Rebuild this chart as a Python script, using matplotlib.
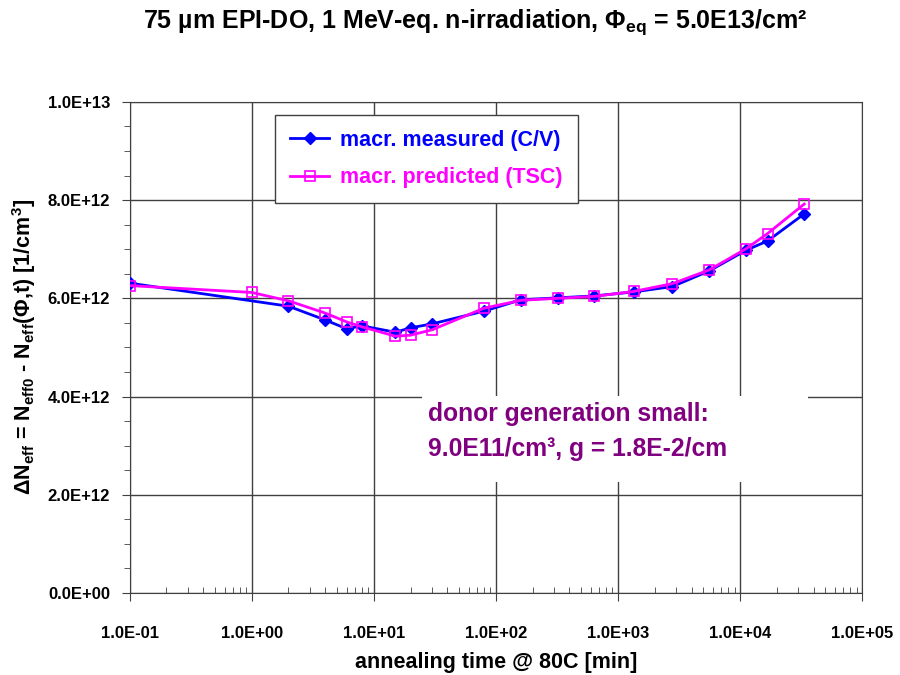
import matplotlib
matplotlib.use("Agg")
import matplotlib.pyplot as plt
import matplotlib.ticker as ticker
from matplotlib.patches import Rectangle
import numpy as np

# ── DATA ────────────────────────────────────────────────────
t_meas = [0.1, 2, 4, 6, 8, 15, 20, 30, 80, 160, 320, 640, 1340, 2790, 5600, 11200, 16800, 33500]
n_meas = [6.31e12, 5.84e12, 5.56e12, 5.38e12, 5.44e12, 5.31e12, 5.40e12, 5.48e12, 5.74e12,
          5.97e12, 6.01e12, 6.05e12, 6.13e12, 6.24e12, 6.56e12, 6.98e12, 7.17e12, 7.72e12]

t_pred = [0.1, 1, 2, 4, 6, 8, 15, 20, 30, 80, 160, 320, 640, 1340, 2790, 5600, 11200, 16800, 33500]
n_pred = [6.26e12, 6.12e12, 5.95e12, 5.70e12, 5.52e12, 5.42e12, 5.23e12, 5.25e12, 5.36e12, 5.80e12,
          5.96e12, 6.00e12, 6.04e12, 6.14e12, 6.30e12, 6.58e12, 7.01e12, 7.32e12, 7.92e12]

x_ticks = [1e-1, 1e0, 1e1, 1e2, 1e3, 1e4, 1e5]
y_ticks = [0, 2e12, 4e12, 6e12, 8e12, 1e13]

LABEL_MEAS = "macr. measured (C/V)"
LABEL_PRED = "macr. predicted (TSC)"
# ────────────────────────────────────────────────────────────

plt.rcParams["font.family"] = ["Liberation Sans", "DejaVu Sans"]
plt.rcParams["font.weight"] = "bold"
plt.rcParams["mathtext.fontset"] = "custom"
plt.rcParams["mathtext.rm"] = "Liberation Sans:bold"
plt.rcParams["mathtext.it"] = "Liberation Sans:bold"
plt.rcParams["mathtext.bf"] = "Liberation Sans:bold"

fig = plt.figure(figsize=(9, 6.75), dpi=100)
ax = fig.add_axes([0.144, 0.1215, 0.814, 0.7275])

ax.plot(t_meas, n_meas, color="#0000ff", lw=2, marker="D", ms=6,
        mfc="#0000ff", mec="#0000ff", label=LABEL_MEAS, zorder=3)
ax.plot(t_pred, n_pred, color="#ff00ff", lw=2, marker="s", ms=7.5,
        mfc="none", mec="#ff00ff", mew=1.2, label=LABEL_PRED, zorder=4)

sci = ticker.FuncFormatter(lambda v, p: "{:.1E}".format(v))

ax.set_xscale("log")
ax.set_xlim(x_ticks[0], x_ticks[-1])
ax.set_ylim(y_ticks[0], y_ticks[-1])
ax.xaxis.set_major_locator(ticker.FixedLocator(x_ticks))
minor_x = [m * d for d in x_ticks[:-1] for m in range(2, 10)]
ax.xaxis.set_minor_locator(ticker.FixedLocator(minor_x))
ax.xaxis.set_minor_formatter(ticker.NullFormatter())
ax.xaxis.set_major_formatter(sci)
ax.yaxis.set_major_locator(ticker.FixedLocator(y_ticks))
ax.yaxis.set_minor_locator(ticker.MultipleLocator(5e11))
ax.yaxis.set_major_formatter(sci)
ax.yaxis.get_offset_text().set_visible(False)

ax.grid(True, which="major", color="#404040", lw=1)
ax.tick_params(axis="both", which="major", labelsize=12, length=6, direction="out", color="#404040", pad=8)
ax.tick_params(axis="x", which="major", pad=18)
ax.tick_params(axis="x", which="minor", length=4, direction="in", color="#404040")
ax.tick_params(axis="y", which="minor", length=4, direction="out", color="#404040")
for lab in ax.get_xticklabels() + ax.get_yticklabels():
    lab.set_fontweight("bold")
for s in ax.spines.values():
    s.set_color("#404040")

ax.set_xlabel("annealing time @ 80C [min]", fontsize=15.5, fontweight="bold", labelpad=8)
ax.set_ylabel(r"$\Delta$N$_{eff}$ = N$_{eff0}$ - N$_{eff}$($\Phi$,t) [1/cm$^3$]",
              fontsize=15.5, fontweight="bold", labelpad=7)
fig.text(0.528, 0.967, r"75 µm EPI-DO, 1 MeV-eq. n-irradiation, $\Phi_{eq}$ = 5.0E13/cm²",
         fontsize=18, fontweight="bold", ha="center", va="center")

leg = ax.legend(loc="upper left", bbox_to_anchor=(0.199, 0.9735), borderaxespad=0,
                fontsize=15.5, fancybox=False, edgecolor="#404040", framealpha=1,
                handlelength=1.8, handletextpad=0.5, borderpad=0.7, labelspacing=0.75)
leg.get_frame().set_linewidth(1)
for txt, col in zip(leg.get_texts(), ["#0000ff", "#ff00ff"]):
    txt.set_color(col)
    txt.set_fontweight("bold")

# white box behind the note, covering the grid
ax.add_patch(Rectangle((0.399, 0.226), 0.527, 0.175, transform=ax.transAxes,
                       fc="white", ec="none", zorder=2.6))
ax.text(0.407, 0.389, "donor generation small:\n9.0E11/cm³, g = 1.8E-2/cm",
        transform=ax.transAxes, fontsize=17.7, fontweight="bold", color="#800080",
        va="top", ha="left", linespacing=1.6, zorder=5)

fig.savefig("out.png", dpi=100)
